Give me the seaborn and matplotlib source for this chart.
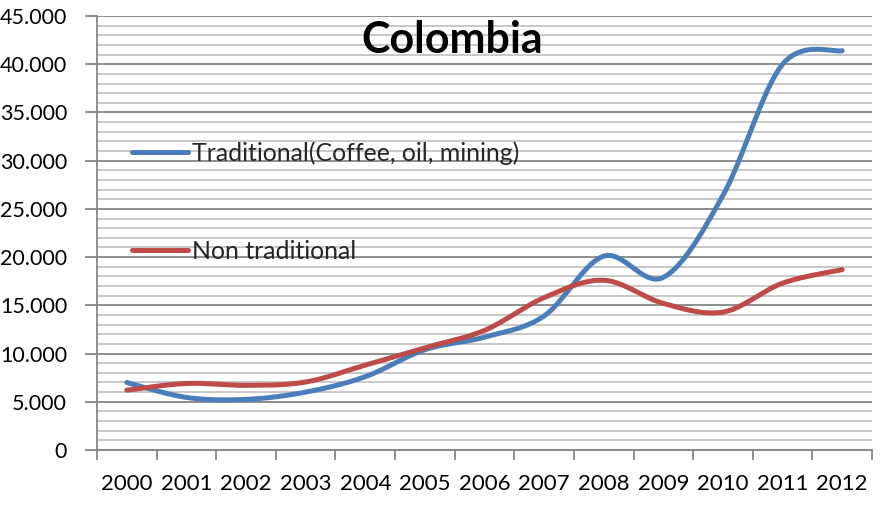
import numpy as np
import pandas as pd
import seaborn as sns
import matplotlib
matplotlib.use("Agg")
import matplotlib.pyplot as plt
from matplotlib.ticker import FuncFormatter, MultipleLocator, FixedLocator

# Colombian exports (millions USD)
years = ["2000", "2001", "2002", "2003", "2004", "2005", "2006",
         "2007", "2008", "2009", "2010", "2011", "2012"]
traditional = [7000, 5450, 5250, 6000, 7600, 10400, 11700,
               13900, 20100, 17900, 26400, 40000, 41400]
non_traditional = [6200, 6900, 6700, 7050, 8800, 10600, 12400,
                   15800, 17600, 15200, 14300, 17300, 18700]

series_names = ["Traditional(Coffee, oil, mining)", "Non traditional"]
colors = ["#4a7ebb", "#be4b48"]


def smooth(xv, yv, steps=40):
    """Cubic Bezier smoothing through every point (spreadsheet-style)."""
    p = np.column_stack([xv, yv]).astype(float)
    n = len(p)
    ext = np.vstack([p[0], p, p[-1]])
    out = []
    t = np.linspace(0, 1, steps, endpoint=False)[:, None]
    for i in range(n - 1):
        p0, p3 = ext[i + 1], ext[i + 2]
        c1 = p0 + (ext[i + 2] - ext[i]) / 6.0
        c2 = p3 - (ext[i + 3] - ext[i + 1]) / 6.0
        seg = ((1 - t) ** 3) * p0 + 3 * ((1 - t) ** 2) * t * c1 \
            + 3 * (1 - t) * t ** 2 * c2 + t ** 3 * p3
        out.append(seg)
    out.append(p[-1][None, :])
    return np.vstack(out)


sns.set_theme(style="white")
plt.rcParams["font.family"] = ["Lato", "DejaVu Sans"]

fig = plt.figure(figsize=(8.85, 5.05), dpi=100)
ax = fig.add_axes([97 / 885, 1 - 450 / 505, 775 / 885, 434 / 505])

xpos = np.arange(len(years))
frames = []
for name, vals in zip(series_names, [traditional, non_traditional]):
    curve = smooth(xpos, vals)
    frames.append(pd.DataFrame({"x": curve[:, 0], "y": curve[:, 1],
                                "series": name}))
df = pd.concat(frames, ignore_index=True)

sns.lineplot(data=df, x="x", y="y", hue="series", palette=colors,
             estimator=None, sort=False, linewidth=3.6, ax=ax,
             solid_capstyle="round", zorder=5)

ax.set_xlim(-0.5, len(years) - 0.5)
ax.set_ylim(0, 45000)

# y axis: major every 5.000, minor every 1.000
ax.yaxis.set_major_locator(MultipleLocator(5000))
ax.yaxis.set_minor_locator(MultipleLocator(1000))
ax.yaxis.set_major_formatter(
    FuncFormatter(lambda v, _: f"{int(v):,}".replace(",", ".")))
ax.grid(which="major", axis="y", color="#868686", linewidth=1.3, zorder=0)
ax.grid(which="minor", axis="y", color="#c4c4c4", linewidth=1.3, zorder=0)
ax.grid(which="both", axis="x", visible=False)

# x axis: ticks at category boundaries, labels centred on categories
ax.xaxis.set_major_locator(FixedLocator(np.arange(-0.5, len(years), 1.0)))
ax.xaxis.set_minor_locator(FixedLocator(xpos))
ax.set_xticklabels([])
ax.set_xticklabels(years, minor=True)

ax.tick_params(axis="y", which="major", length=9, width=1.3, color="#868686",
               left=True, pad=12.5, labelsize=15.5, labelcolor="black")
ax.tick_params(axis="y", which="minor", length=0)
ax.tick_params(axis="x", which="major", length=7, width=1.3, color="#868686",
               bottom=True)
ax.tick_params(axis="x", which="minor", length=0, pad=17, labelsize=16,
               labelcolor="black")

for side in ["top", "right"]:
    ax.spines[side].set_visible(False)
for side in ["left", "bottom"]:
    ax.spines[side].set_color("#868686")
    ax.spines[side].set_linewidth(1.3)

ax.set_xlabel("")
ax.set_ylabel("")

fig.text(452 / 885, 1 - 53 / 505, "Colombia", ha="center", va="baseline",
         fontsize=31, fontweight="bold", color="black")

leg = ax.legend(loc="upper left", bbox_to_anchor=(132 / 885, 1 - 141 / 505),
                bbox_transform=fig.transFigure, frameon=False, fontsize=17.9,
                handlelength=2.25, handletextpad=0.16,
                labelspacing=3.04, borderaxespad=0, borderpad=0)
for line in leg.get_lines():
    line.set_linewidth(3.6)

fig.savefig("out.png", dpi=100, facecolor="white")
